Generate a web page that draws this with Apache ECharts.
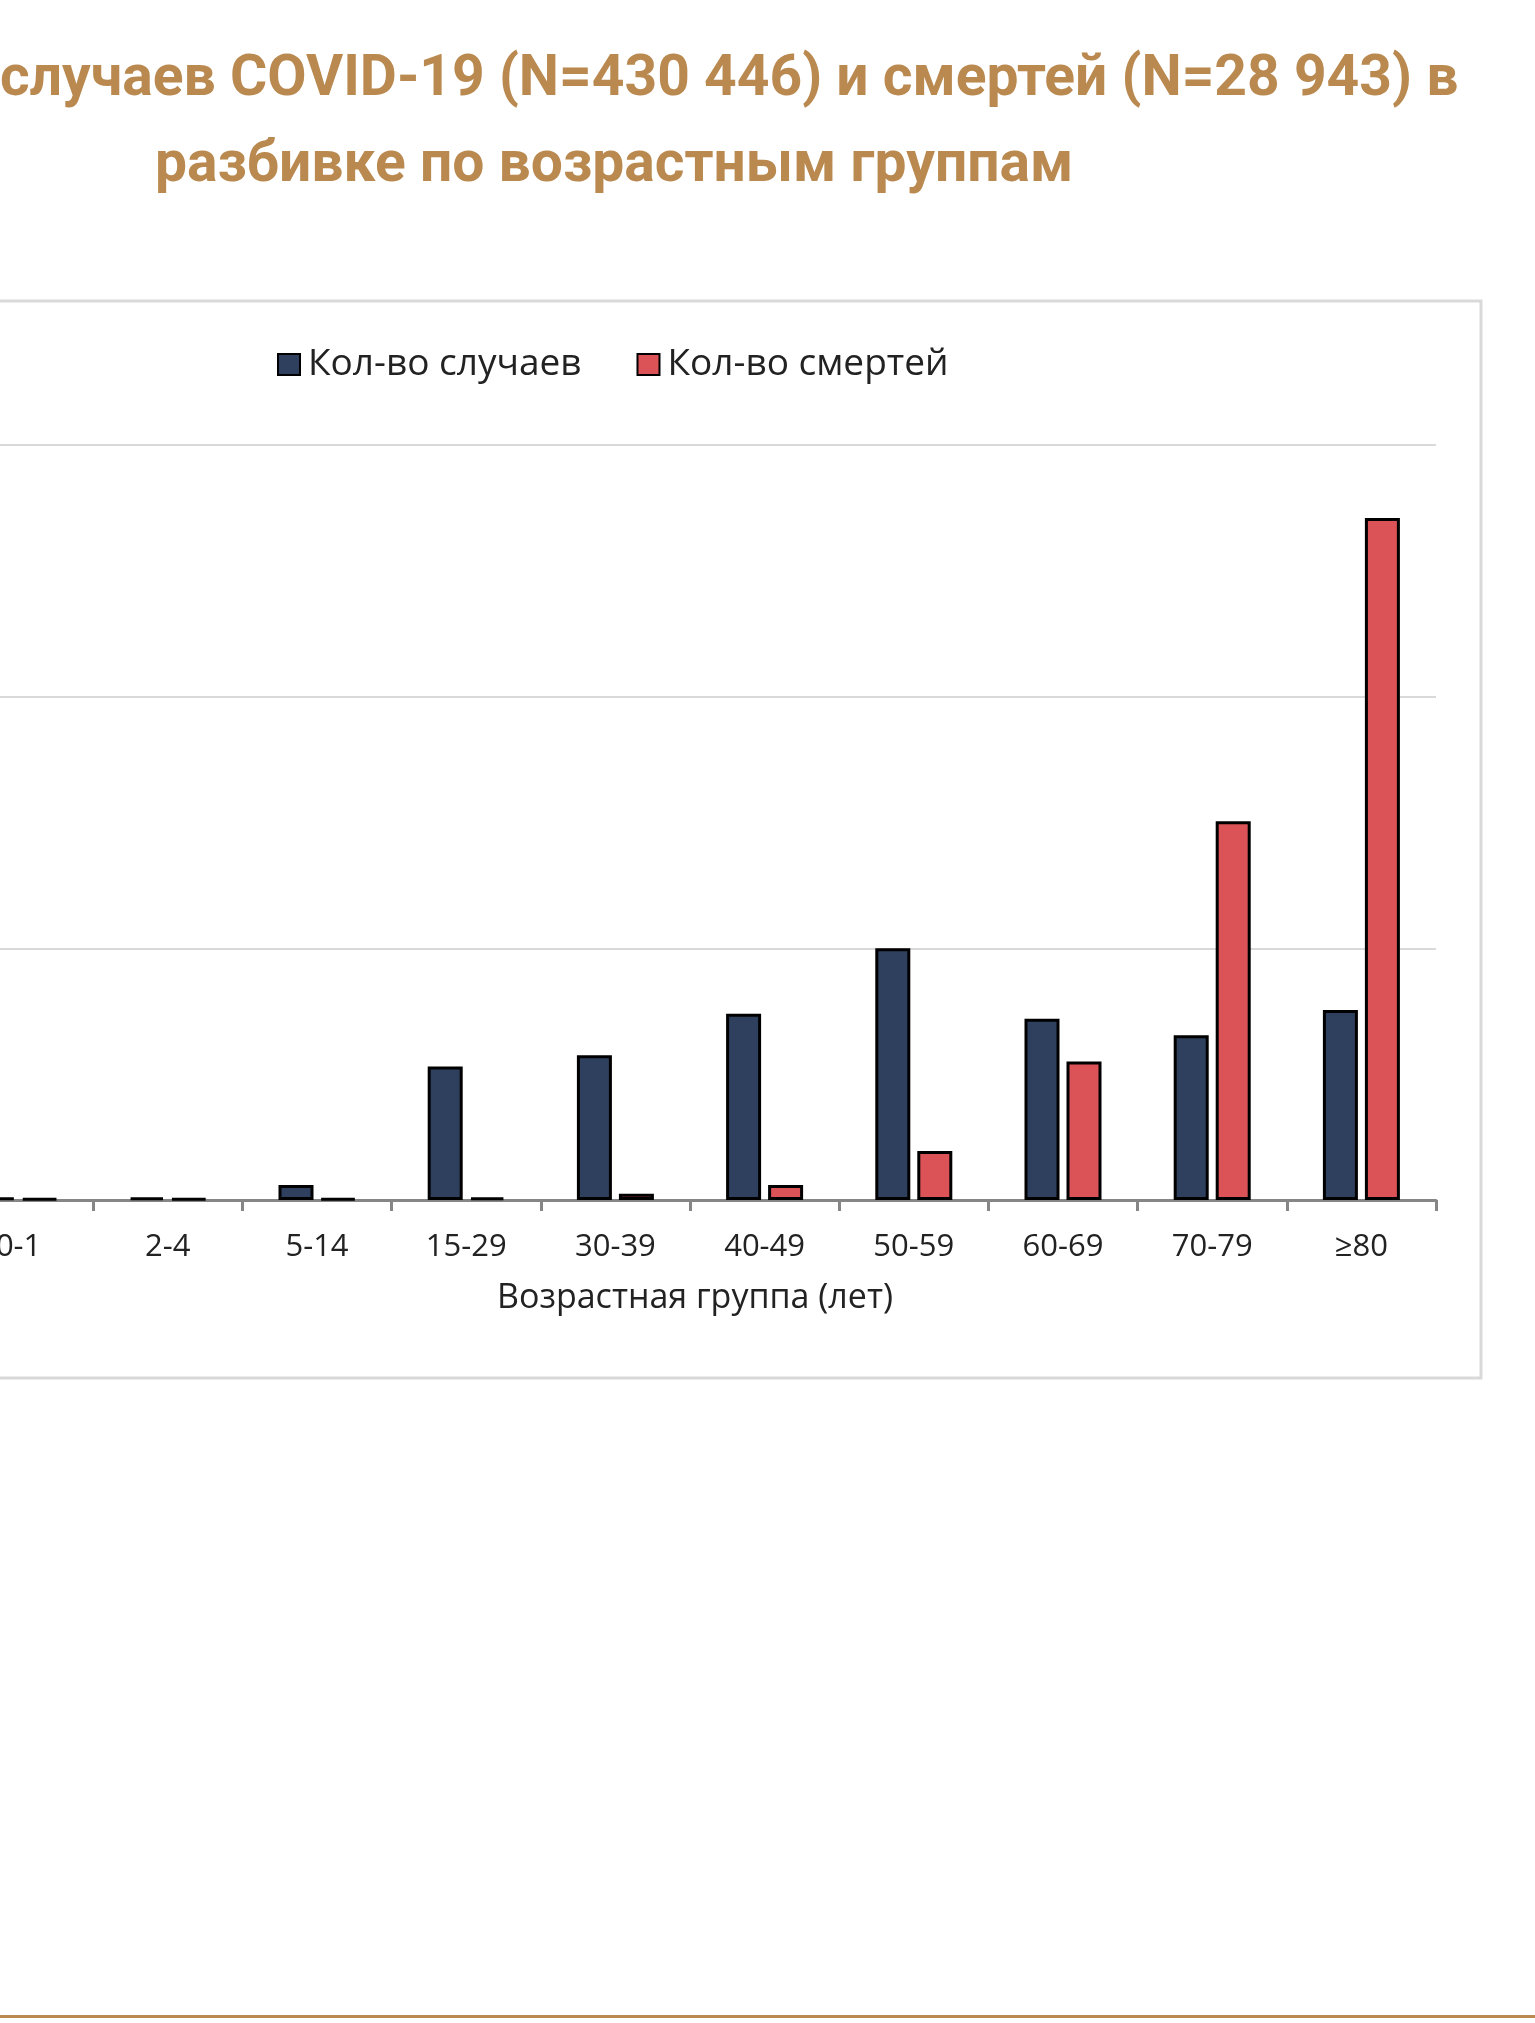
<!DOCTYPE html>
<html>
<head>
<meta charset="utf-8">
<script src="https://cdn.jsdelivr.net/npm/echarts@6/dist/echarts.min.js"></script>
<style>
html,body{margin:0;padding:0;background:#fff;overflow:hidden;width:1535px;height:2023px;position:relative;}
#chart{position:absolute;left:-56px;top:0;width:1591px;height:2023px;}
</style>
</head>
<body>
<div id="chart"></div>
<script>
const titleLine1 = 'случаев COVID-19 (N=430 446) и смертей (N=28 943) в';
const titleLine2 = 'разбивке по возрастным группам';
const categories = ['0-1','2-4','5-14','15-29','30-39','40-49','50-59','60-69','70-79','≥80'];
const seriesNames = ['Кол-во случаев','Кол-во смертей'];
const casesPct = [0.2, 0.2, 1.2, 10.6, 11.5, 14.8, 20.0, 14.4, 13.1, 15.1];
const deathsPct = [0.1, 0.1, 0.1, 0.2, 0.5, 1.2, 3.9, 11.0, 30.1, 54.2];
const xAxisName = 'Возрастная группа (лет)';

const OFF = 56; // chart canvas starts 56px left of the page
const chart = echarts.init(document.getElementById('chart'), null, {renderer:'canvas'});
const brown = '#B9894F';
const option = {
  backgroundColor:'#ffffff',
  animation:false,
  graphic:[
    {type:'text', left:OFF + 0, top:52, style:{text:titleLine1, font:'bold 57px Roboto', fill:brown}},
    {type:'text', left:OFF + 155, top:138, style:{text:titleLine2, font:'bold 57px Roboto', fill:brown}},
    {type:'rect', shape:{x:OFF - 10, y:301, width:1491, height:1077}, style:{fill:'none', stroke:'#D9D9D9', lineWidth:3}, z:-1},
    {type:'rect', shape:{x:OFF, y:2015, width:1535, height:3}, style:{fill:brown}}
  ],
  legend:{
    data:seriesNames,
    left:OFF + 272, top:341,
    itemWidth:22, itemHeight:21, itemGap:55,
    icon:'rect',
    textStyle:{fontFamily:'Open Sans', fontSize:37, color:'#222', padding:[0,0,0,3]}
  },
  grid:{left:0, right:99, top:445, bottom:823, containLabel:false},
  xAxis:{
    type:'category', data:categories,
    axisLine:{lineStyle:{color:'#868686', width:3}},
    axisTick:{show:true, length:11, lineStyle:{color:'#868686', width:3}},
    axisLabel:{fontFamily:'Open Sans', fontSize:31, color:'#222', margin:32},
    name:xAxisName, nameLocation:'middle', nameGap:81,
    nameTextStyle:{fontFamily:'Open Sans', fontSize:34, color:'#222', padding:[0,0,0,10]}
  },
  yAxis:{
    type:'value', min:0, max:60, interval:20,
    axisLabel:{show:false}, axisLine:{show:false}, axisTick:{show:false},
    splitLine:{lineStyle:{color:'#D9D9D9', width:2}}
  },
  series:[
    {name:seriesNames[0], type:'bar', data:casesPct, barWidth:35, barGap:'20%',
     itemStyle:{color:'#2F405E', borderColor:'#000', borderWidth:3}},
    {name:seriesNames[1], type:'bar', data:deathsPct, barWidth:35, barGap:'20%',
     itemStyle:{color:'#DB5356', borderColor:'#000', borderWidth:3}}
  ]
};
chart.setOption(option);
</script>
</body>
</html>
